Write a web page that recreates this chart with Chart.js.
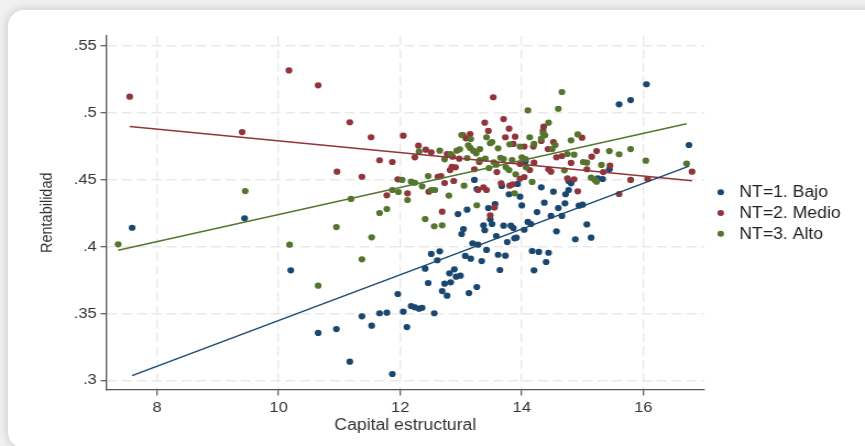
<!DOCTYPE html>
<html>
<head>
<meta charset="utf-8">
<script src="https://cdn.jsdelivr.net/npm/chart.js@4.4.0/dist/chart.umd.min.js"></script>
<style>
  html, body { margin: 0; padding: 0; width: 865px; height: 446px; overflow: hidden; background: #f1f1f1; }
  #card { position: absolute; left: 8px; top: 10px; width: 880px; height: 438px; background: #fff;
          border-radius: 16px; box-shadow: 0 0 9px 2px rgba(0,0,0,0.13); }
  #wrap { position: absolute; left: 0; top: 0; width: 865px; height: 446px; }
  #c { display: block; width: 865px; height: 446px; }
</style>
</head>
<body>
<div id="card"></div>
<div id="wrap"><canvas id="c" width="786" height="446" style="width:865px;height:446px"></canvas></div>
<script>
// Axis ticks
const xTicks = [8, 10, 12, 14, 16];
const xTickLabels = ['8', '10', '12', '14', '16'];
const yTicks = [0.3, 0.35, 0.4, 0.45, 0.5, 0.55];
const yTickLabels = ['.3', '.35', '.4', '.45', '.5', '.55'];

const seriesLabels = ['NT=1. Bajo', 'NT=2. Medio', 'NT=3. Alto'];
const seriesColors = ['#1a476f', '#90353b', '#55752f'];

// Capital estructural (x) and Rentabilidad (y), NT=1. Bajo
const bajoX = [7.59, 9.44, 10.20, 10.65, 10.95, 11.17, 11.37, 11.53, 11.66, 11.78, 11.87, 11.96, 12.05, 12.11, 12.18, 12.24, 12.31, 12.36, 12.41, 12.46,
  12.51, 12.56, 12.61, 12.65, 12.69, 12.73, 12.77, 12.81, 12.83, 12.89, 12.92, 12.95, 12.99, 13.01, 13.04, 13.07, 13.10, 13.13, 13.16, 13.19,
  13.22, 13.26, 13.26, 13.28, 13.34, 13.37, 13.39, 13.42, 13.45, 13.48, 13.51, 13.56, 13.58, 13.61, 13.64, 13.67, 13.70, 13.73, 13.76, 13.79,
  13.82, 13.86, 13.88, 13.91, 13.93, 13.97, 14.00, 14.04, 14.06, 14.10, 14.15, 14.17, 14.20, 14.25, 14.28, 14.32, 14.37, 14.40, 14.44, 14.48,
  14.52, 14.57, 14.60, 14.66, 14.71, 14.72, 14.77, 14.77, 14.81, 14.88, 14.94, 15.00, 15.07, 15.14, 15.23, 15.25, 15.33, 15.44, 15.60, 15.79,
  16.05, 16.75];
const bajoY = [.414, .421, .3822, .3354, .3383, .3139, .3478, .3408, .3501, .3505, .3047, .3645, .3513, .3398, .3555, .3545, .3535, .3542, .3834, .3727,
  .3944, .3501, .3897, .3964, .3667, .3722, .3632, .3799, .3732, .3829, .3774, .4242, .3782, .4093, .4130, .3929, .4275, .3652, .3909, .4024,
  .4497, .3697, .4429, .4013, .3891, .4158, .4121, .3974, .4287, .4203, .4168, .4317, .4078, .3938, .3824, .4452, .4155, .3931, .4033, .4390,
  .4155, .4138, .4061, .4066, .4467, .4372, .4307, .4125, .4634, .4183, .4168, .3966, .3822, .4257, .3959, .4442, .4327, .3884, .3953, .4228,
  .4409, .4113, .4287, .4228, .4322, .4390, .4489, .4422, .4472, .4054, .4305, .4312, .4165, .4066, .4497, .4509, .4504, .4577, .5062, .5094,
  .5212, .4758];

// NT=2. Medio
const medioX = [7.55, 9.40, 10.17, 10.65, 10.96, 11.17, 11.37, 11.52, 11.66, 11.78, 11.87, 11.96, 12.05, 12.12, 12.24, 12.30, 12.42, 12.47, 12.51, 12.62,
  12.67, 12.69, 12.73, 12.77, 12.82, 12.85, 12.86, 12.88, 12.91, 12.97, 13.03, 13.08, 13.15, 13.22, 13.28, 13.30, 13.37, 13.39, 13.42, 13.45,
  13.48, 13.53, 13.55, 13.59, 13.66, 13.70, 13.73, 13.79, 13.80, 13.85, 13.86, 13.89, 13.97, 13.97, 14.04, 14.04, 14.13, 14.19, 14.20, 14.32,
  14.35, 14.36, 14.43, 14.44, 14.48, 14.52, 14.57, 14.66, 14.75, 14.81, 14.86, 14.92, 14.99, 15.07, 15.15, 15.23, 15.34, 15.45, 15.60, 15.79,
  16.07, 16.80];
const medioY = [.5119, .4855, .5315, .5204, .4559, .4928, .4521, .4816, .4644, .4382, .4631, .4502, .4828, .4397, .4666, .4753, .4723, .4409, .4704, .4521,
  .4526, .4260, .4474, .4691, .4571, .4594, .4671, .4489, .4591, .4656, .4833, .4808, .4840, .4577, .4422, .4631, .4442, .4925, .4422, .4863,
  .4233, .5115, .4292, .4556, .4472, .4952, .4816, .4880, .4454, .4464, .4766, .4820, .4616, .4506, .4746, .4519, .4571, .4746, .4626, .4788,
  .4863, .4895, .4728, .4577, .4559, .4780, .4666, .4676, .4509, .4624, .4502, .4412, .4813, .4577, .4671, .4713, .4556, .4604, .4392, .4497,
  .4504, .4559];

// NT=3. Alto
const altoX = [7.36, 9.45, 10.18, 10.65, 10.95, 11.19, 11.37, 11.53, 11.66, 11.78, 11.87, 11.97, 12.03, 12.12, 12.18, 12.24, 12.31, 12.36, 12.41, 12.46,
  12.51, 12.56, 12.57, 12.65, 12.69, 12.73, 12.80, 12.83, 12.93, 12.98, 13.01, 13.05, 13.10, 13.12, 13.15, 13.16, 13.20, 13.25, 13.26, 13.31,
  13.31, 13.40, 13.42, 13.46, 13.48, 13.51, 13.54, 13.58, 13.61, 13.65, 13.70, 13.74, 13.79, 13.80, 13.84, 13.88, 13.90, 13.97, 14.00, 14.06,
  14.07, 14.10, 14.13, 14.17, 14.20, 14.32, 14.35, 14.38, 14.44, 14.50, 14.55, 14.60, 14.66, 14.70, 14.75, 14.81, 14.86, 14.92, 15.01, 15.07,
  15.14, 15.20, 15.23, 15.31, 15.44, 15.60, 15.79, 16.04, 16.71];
const altoY = [.4016, .4414, .4013, .3707, .4145, .4355, .3904, .4068, .4250, .4280, .4422, .4407, .4497, .4347, .4484, .4476, .4708, .4449, .4205, .4526,
  .4422, .4151, .4422, .4716, .4158, .4651, .4380, .4691, .4716, .4726, .4833, .4454, .4661, .4756, .4736, .4803, .4716, .4696, .4308, .4728,
  .4646, .4656, .4816, .4586, .4771, .4780, .4629, .4611, .4733, .4663, .4653, .4591, .4571, .4763, .4646, .4397, .4539, .4746, .4666, .4653,
  .4591, .5017, .4816, .4482, .4766, .4805, .4845, .4831, .4925, .4728, .4758, .5029, .5154, .4569, .4691, .4793, .4686, .4837, .4631, .4626,
  .4514, .4497, .4484, .4609, .4713, .4689, .4728, .4641, .4619];

// Linear fits per group: [x start, x end] and [y start, y end]
const fitBajoX = [7.59, 16.75], fitBajoY = [0.3035, 0.4600];
const fitMedioX = [7.55, 16.80], fitMedioY = [0.4896, 0.4491];
const fitAltoX = [7.36, 16.71], fitAltoY = [0.3972, 0.4917];

const pts = (xs, ys) => xs.map((x, i) => ({ x: x, y: ys[i] }));

const scatterSet = (i, xs, ys, order) => ({
  label: seriesLabels[i], data: pts(xs, ys), order: order, legendIndex: i,
  backgroundColor: seriesColors[i], borderColor: seriesColors[i],
  pointRadius: 3.1, pointHoverRadius: 3.1, pointBorderWidth: 0, showLine: false
});
const fitSet = (i, xs, ys) => ({
  label: seriesLabels[i] + ' fit', data: pts(xs, ys), order: 0,
  borderColor: seriesColors[i], backgroundColor: seriesColors[i],
  showLine: true, pointRadius: 0, borderWidth: 1.4, tension: 0
});

// Legend with round markers at the right of the plot
const sideLegend = {
  id: 'sideLegend',
  afterDraw(chart) {
    const ctx = chart.ctx;
    const items = chart.data.datasets
      .filter(d => d.legendIndex !== undefined)
      .sort((a, b) => a.legendIndex - b.legendIndex);
    ctx.save();
    ctx.font = '16px "Liberation Sans", Arial, sans-serif';
    ctx.textBaseline = 'middle';
    ctx.textAlign = 'left';
    items.forEach((d, k) => {
      const y = 192.3 + k * 20.7;
      ctx.fillStyle = d.backgroundColor;
      ctx.beginPath();
      ctx.arc(654.9, y, 3.0, 0, Math.PI * 2);
      ctx.fill();
      ctx.fillStyle = '#222';
      ctx.fillText(d.label, 671.8, y + 0.5);
    });
    ctx.restore();
  }
};

const axisColor = '#555';
const gridColor = '#e9e9e9';
const fontFamily = '"Liberation Sans", Arial, sans-serif';

new Chart(document.getElementById('c'), {
  type: 'scatter',
  data: {
    datasets: [
      fitSet(0, fitBajoX, fitBajoY),
      fitSet(1, fitMedioX, fitMedioY),
      fitSet(2, fitAltoX, fitAltoY),
      scatterSet(2, altoX, altoY, 1),
      scatterSet(1, medioX, medioY, 2),
      scatterSet(0, bajoX, bajoY, 3)
    ]
  },
  options: {
    responsive: false,
    devicePixelRatio: 1,
    animation: false,
    events: [],
    layout: { padding: { left: 0, right: 146.3, top: 36, bottom: 0 } },
    plugins: { legend: { display: false }, tooltip: { enabled: false } },
    scales: {
      x: {
        type: 'linear', position: 'bottom', min: 7.171, max: 16.997,
        afterBuildTicks: s => { s.ticks = xTicks.map(v => ({ value: v })); },
        afterFit: s => { s.height = 56.5; },
        ticks: {
          autoSkip: false, maxRotation: 0, padding: 3.2, color: '#333',
          font: { family: fontFamily, size: 15 },
          callback: (v, i) => xTickLabels[i]
        },
        grid: { color: gridColor, lineWidth: 1.4, drawTicks: true, tickLength: 6, tickColor: axisColor, tickWidth: 1.2 },
        border: { display: true, color: axisColor, width: 1.3, dash: [9, 4.5] },
        title: {
          display: true, text: 'Capital estructural', color: '#333',
          font: { family: fontFamily, size: 16 },
          padding: { top: 0, bottom: 10.4 }
        }
      },
      y: {
        type: 'linear', position: 'left', min: 0.29313, max: 0.55725,
        afterBuildTicks: s => { s.ticks = yTicks.map(v => ({ value: v })); },
        afterFit: s => { s.width = 96.9; },
        ticks: {
          autoSkip: false, padding: 3.5, color: '#333',
          font: { family: fontFamily, size: 15 },
          callback: (v, i) => yTickLabels[i]
        },
        grid: { color: gridColor, lineWidth: 1.4, drawTicks: true, tickLength: 5.5, tickColor: axisColor, tickWidth: 1.2 },
        border: { display: true, color: axisColor, width: 1.3, dash: [9, 4.5] },
        title: {
          display: true, text: 'Rentabilidad', color: '#333',
          font: { family: fontFamily, size: 14.5 },
          padding: { top: 34.5, bottom: 0 }
        }
      }
    }
  },
  plugins: [sideLegend]
});
</script>
</body>
</html>
